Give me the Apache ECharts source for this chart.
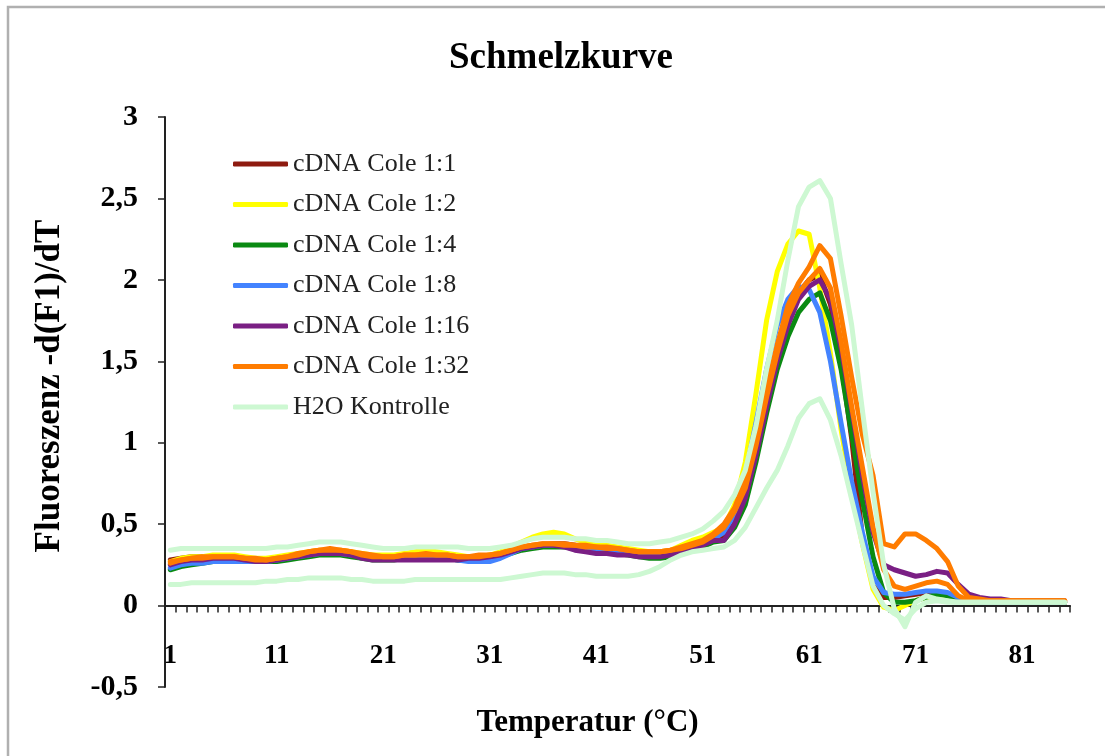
<!DOCTYPE html>
<html>
<head>
<meta charset="utf-8">
<script src="https://cdn.jsdelivr.net/npm/echarts@6/dist/echarts.min.js"></script>
<style>
html,body{margin:0;padding:0;background:#fff;}
#chart{width:1105px;height:756px;}
</style>
</head>
<body>
<div id="chart"></div>
<script>
// Temperature index categories
const categories = [1,2,3,4,5,6,7,8,9,10,11,12,13,14,15,16,17,18,19,20,
  21,22,23,24,25,26,27,28,29,30,31,32,33,34,35,36,37,38,39,40,
  41,42,43,44,45,46,47,48,49,50,51,52,53,54,55,56,57,58,59,60,
  61,62,63,64,65,66,67,68,69,70,71,72,73,74,75,76,77,78,79,80,
  81,82,83,84,85];

const yTicks = [-0.5, 0, 0.5, 1, 1.5, 2, 2.5, 3];

const seriesNames = ['cDNA Cole 1:1','cDNA Cole 1:2','cDNA Cole 1:4','cDNA Cole 1:8','cDNA Cole 1:16','cDNA Cole 1:32','H2O Kontrolle'];

const cole_1_1 = [0.28,0.29,0.30,0.30,0.30,0.30,0.30,0.29,0.28,0.28,
  0.29,0.30,0.31,0.32,0.33,0.33,0.33,0.32,0.31,0.30,
  0.30,0.30,0.30,0.31,0.31,0.31,0.30,0.30,0.30,0.30,
  0.30,0.31,0.33,0.35,0.36,0.37,0.38,0.38,0.37,0.36,
  0.36,0.35,0.34,0.33,0.33,0.32,0.32,0.33,0.35,0.37,
  0.39,0.42,0.42,0.52,0.70,0.98,1.28,1.55,1.77,1.92,
  2.00,2.03,1.85,1.50,1.02,0.42,0.12,0.05,0.05,0.06,
  0.07,0.08,0.08,0.07,0.05,0.03,0.02,0.02,0.02,0.02,
  0.02,0.02,0.02,0.02,0.02];

const cole_1_2 = [0.27,0.29,0.30,0.30,0.31,0.31,0.31,0.30,0.29,0.29,
  0.30,0.31,0.32,0.33,0.34,0.34,0.34,0.33,0.32,0.31,
  0.31,0.31,0.32,0.33,0.34,0.33,0.32,0.31,0.30,0.30,
  0.31,0.33,0.36,0.39,0.42,0.44,0.45,0.44,0.41,0.39,
  0.38,0.37,0.36,0.35,0.34,0.33,0.33,0.34,0.37,0.40,
  0.42,0.45,0.48,0.62,0.88,1.30,1.75,2.05,2.22,2.30,
  2.28,1.95,1.55,1.08,0.70,0.38,0.10,-0.01,-0.03,0.00,
  0.03,0.05,0.05,0.04,0.03,0.02,0.02,0.02,0.02,0.02,
  0.02,0.02,0.02,0.02,0.02];

const cole_1_4 = [0.22,0.24,0.25,0.26,0.27,0.27,0.27,0.27,0.27,0.27,
  0.27,0.28,0.29,0.30,0.31,0.31,0.31,0.30,0.29,0.28,
  0.28,0.28,0.29,0.29,0.29,0.29,0.29,0.28,0.28,0.28,
  0.28,0.30,0.32,0.34,0.35,0.36,0.36,0.36,0.35,0.34,
  0.33,0.33,0.32,0.31,0.30,0.29,0.29,0.30,0.32,0.34,
  0.36,0.39,0.40,0.48,0.62,0.88,1.18,1.45,1.65,1.80,
  1.88,1.92,1.75,1.45,1.05,0.65,0.30,0.08,0.02,0.02,
  0.03,0.05,0.07,0.06,0.04,0.03,0.02,0.02,0.02,0.02,
  0.02,0.02,0.02,0.02,0.02];

const cole_1_8 = [0.23,0.25,0.26,0.26,0.27,0.27,0.27,0.27,0.27,0.27,
  0.28,0.29,0.30,0.31,0.32,0.32,0.32,0.31,0.30,0.29,
  0.29,0.29,0.30,0.30,0.30,0.30,0.29,0.28,0.27,0.27,
  0.27,0.29,0.32,0.35,0.36,0.37,0.37,0.37,0.36,0.35,
  0.35,0.34,0.33,0.32,0.32,0.31,0.31,0.32,0.34,0.36,
  0.38,0.41,0.45,0.56,0.80,1.12,1.45,1.72,1.88,1.96,
  1.94,1.80,1.50,1.12,0.76,0.45,0.18,0.08,0.07,0.07,
  0.08,0.09,0.09,0.08,0.05,0.03,0.02,0.02,0.02,0.02,
  0.02,0.02,0.02,0.02,0.02];

const cole_1_16 = [0.25,0.27,0.28,0.28,0.29,0.29,0.29,0.28,0.27,0.27,
  0.28,0.29,0.30,0.31,0.32,0.32,0.32,0.31,0.29,0.28,
  0.28,0.28,0.28,0.28,0.28,0.28,0.28,0.28,0.29,0.29,
  0.30,0.31,0.33,0.35,0.36,0.37,0.37,0.36,0.34,0.33,
  0.32,0.32,0.31,0.31,0.30,0.30,0.30,0.31,0.33,0.35,
  0.37,0.40,0.40,0.50,0.66,0.92,1.22,1.50,1.72,1.88,
  1.96,2.00,1.88,1.58,1.20,0.80,0.45,0.25,0.22,0.20,
  0.18,0.19,0.21,0.20,0.13,0.07,0.05,0.04,0.04,0.03,
  0.03,0.03,0.03,0.03,0.03];

const cole_1_32a = [0.26,0.28,0.29,0.29,0.30,0.30,0.30,0.29,0.28,0.28,
  0.29,0.30,0.32,0.33,0.34,0.34,0.34,0.33,0.31,0.30,
  0.30,0.30,0.31,0.31,0.31,0.31,0.31,0.30,0.30,0.30,
  0.31,0.32,0.34,0.36,0.37,0.38,0.38,0.38,0.37,0.37,
  0.36,0.36,0.35,0.34,0.33,0.33,0.33,0.34,0.36,0.38,
  0.40,0.44,0.50,0.60,0.77,1.02,1.33,1.60,1.84,1.98,
  2.08,2.21,2.13,1.78,1.40,1.05,0.80,0.38,0.36,0.44,
  0.44,0.40,0.35,0.27,0.12,0.05,0.04,0.03,0.03,0.03,
  0.03,0.03,0.03,0.03,0.03];

const cole_1_32b = [0.27,0.28,0.29,0.30,0.30,0.30,0.30,0.29,0.29,0.28,
  0.29,0.30,0.31,0.33,0.34,0.35,0.34,0.33,0.32,0.31,
  0.30,0.30,0.31,0.31,0.32,0.31,0.31,0.30,0.30,0.31,
  0.31,0.32,0.34,0.36,0.37,0.38,0.38,0.37,0.37,0.36,
  0.36,0.35,0.35,0.34,0.33,0.33,0.33,0.34,0.35,0.37,
  0.39,0.43,0.48,0.58,0.72,0.98,1.28,1.55,1.78,1.92,
  2.00,2.07,1.95,1.62,1.22,0.85,0.48,0.22,0.12,0.10,
  0.12,0.14,0.15,0.13,0.06,0.03,0.03,0.03,0.03,0.03,
  0.03,0.03,0.03,0.03,0.03];

const h2o_a = [0.34,0.35,0.35,0.35,0.35,0.35,0.35,0.35,0.35,0.35,
  0.36,0.36,0.37,0.38,0.39,0.39,0.39,0.38,0.37,0.36,
  0.35,0.35,0.35,0.36,0.36,0.36,0.36,0.36,0.35,0.35,
  0.35,0.36,0.37,0.39,0.41,0.42,0.42,0.42,0.41,0.41,
  0.40,0.40,0.39,0.38,0.38,0.38,0.39,0.40,0.42,0.44,
  0.47,0.52,0.58,0.68,0.83,1.10,1.45,1.75,2.12,2.45,
  2.57,2.61,2.50,2.10,1.72,1.20,0.70,0.25,-0.02,-0.13,
  0.02,0.06,0.04,0.03,0.02,0.02,0.02,0.02,0.02,0.02,
  0.02,0.02,0.02,0.02,0.02];

const h2o_b = [0.13,0.13,0.14,0.14,0.14,0.14,0.14,0.14,0.14,0.15,
  0.15,0.16,0.16,0.17,0.17,0.17,0.17,0.16,0.16,0.15,
  0.15,0.15,0.15,0.16,0.16,0.16,0.16,0.16,0.16,0.16,
  0.16,0.16,0.17,0.18,0.19,0.20,0.20,0.20,0.19,0.19,
  0.18,0.18,0.18,0.18,0.19,0.21,0.24,0.28,0.31,0.33,
  0.34,0.35,0.36,0.40,0.48,0.60,0.72,0.83,0.98,1.15,
  1.24,1.27,1.14,0.92,0.65,0.38,0.12,0.00,-0.05,-0.09,
  -0.02,0.02,0.03,0.02,0.02,0.02,0.02,0.02,0.02,0.02,
  0.02,0.02,0.02,0.02,0.02];

const colors = {
  'cDNA Cole 1:1': '#8e1b10',
  'cDNA Cole 1:2': '#ffff00',
  'cDNA Cole 1:4': '#0a8a12',
  'cDNA Cole 1:8': '#4383ff',
  'cDNA Cole 1:16': '#7a1f84',
  'cDNA Cole 1:32': '#ff7c00',
  'H2O Kontrolle': '#cdf8d2'
};

const seriesList = [
  ['cDNA Cole 1:1', cole_1_1],
  ['cDNA Cole 1:2', cole_1_2],
  ['cDNA Cole 1:4', cole_1_4],
  ['cDNA Cole 1:8', cole_1_8],
  ['cDNA Cole 1:16', cole_1_16],
  ['cDNA Cole 1:32', cole_1_32b],
  ['cDNA Cole 1:32', cole_1_32a],
  ['H2O Kontrolle', h2o_b],
  ['H2O Kontrolle', h2o_a]
];

const FONT = '"Liberation Serif", "Times New Roman", serif';

const chart = echarts.init(document.getElementById('chart'));
chart.setOption({
  animation: false,
  backgroundColor: '#ffffff',
  graphic: [{
    type: 'rect',
    shape: {x: 8, y: 7, width: 1110, height: 760},
    style: {fill: 'none', stroke: '#b0b0b0', lineWidth: 2.5},
    silent: true
  }],
  title: {
    text: 'Schmelzkurve',
    left: 556,
    top: 35,
    textAlign: 'center',
    textStyle: {fontFamily: FONT, fontWeight: 'bold', fontSize: 37, color: '#000'}
  },
  legend: {
    data: seriesNames,
    orient: 'vertical',
    left: 233,
    top: 151,
    padding: 0,
    icon: 'roundRect',
    itemWidth: 55,
    itemHeight: 5,
    itemGap: 14.5,
    textStyle: {fontFamily: FONT, fontSize: 26, color: '#222', lineHeight: 24}
  },
  grid: {left: 165, right: 35, top: 117, bottom: 69, containLabel: false, outerBoundsMode: 'none'},
  xAxis: {
    type: 'category',
    data: categories,
    boundaryGap: true,
    name: 'Temperatur (°C)',
    nameLocation: 'middle',
    nameGap: 20,
    nameTextStyle: {fontFamily: FONT, fontWeight: 'bold', fontSize: 31, color: '#000', padding: [0, 60, 0, 0]},
    axisLine: {onZero: true, lineStyle: {color: '#222', width: 2}},
    axisTick: {show: true, interval: 0, length: 7, alignWithLabel: false, lineStyle: {color: '#222', width: 1.5}},
    axisLabel: {interval: 9, margin: -44, fontFamily: FONT, fontWeight: 'bold', fontSize: 27, color: '#000'},
    splitLine: {show: false}
  },
  yAxis: {
    type: 'value',
    min: yTicks[0],
    max: yTicks[yTicks.length - 1],
    interval: 0.5,
    name: 'Fluoreszenz -d(F1)/dT',
    nameLocation: 'middle',
    nameRotate: 90,
    nameGap: 98,
    nameTextStyle: {fontFamily: FONT, fontWeight: 'bold', fontSize: 35, color: '#000', padding: [0, 0, 0, 32]},
    axisLine: {show: true, lineStyle: {color: '#222', width: 2}},
    axisTick: {show: true, length: 7, lineStyle: {color: '#222', width: 1.5}},
    axisLabel: {margin: 27, fontFamily: FONT, fontWeight: 'bold', fontSize: 30, color: '#000',
      formatter: v => String(v).replace('.', ',')},
    splitLine: {show: false}
  },
  series: seriesList.map(([name, data]) => ({
    type: 'line',
    name: name,
    data: data,
    showSymbol: false,
    symbol: 'none',
    smooth: false,
    color: colors[name],
    lineStyle: {width: 5, color: colors[name], join: 'round', cap: 'round'}
  }))
});
</script>
</body>
</html>
